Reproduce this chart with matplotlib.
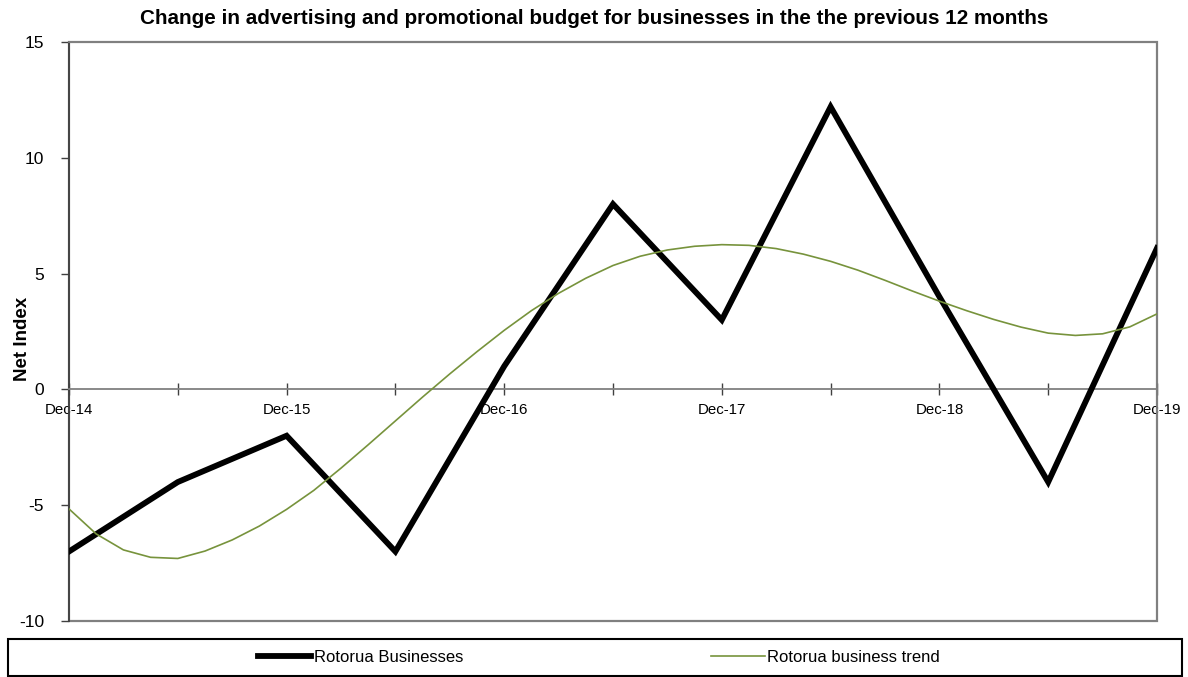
import matplotlib
matplotlib.use("Agg")
import matplotlib.pyplot as plt
from matplotlib.patches import Rectangle
import numpy as np

plt.rcParams['font.family'] = ['Liberation Sans', 'DejaVu Sans']
plt.rcParams['axes.unicode_minus'] = False

# half-yearly survey periods
periods = ['Dec-14', 'Jun-15', 'Dec-15', 'Jun-16', 'Dec-16', 'Jun-17',
           'Dec-17', 'Jun-18', 'Dec-18', 'Jun-19', 'Dec-19']
rotorua = [-7, -4, -2, -7, 1, 8, 3, 12.2, 4, -4, 6.1]

# trend line, sampled every quarter (in half-year steps)
trend_pos = [i * 0.25 for i in range(41)]
trend = [-5.16, -6.24, -6.93, -7.25, -7.30, -6.98, -6.50, -5.90, -5.18,
         -4.36, -3.40, -2.39, -1.36, -0.33, 0.67, 1.63, 2.55,
         3.40, 4.15, 4.80, 5.35, 5.75, 6.02, 6.18, 6.25,
         6.22, 6.08, 5.84, 5.53, 5.15, 4.71, 4.25, 3.81,
         3.40, 3.02, 2.69, 2.43, 2.33, 2.40, 2.70, 3.26]

grey = '#808080'
green = '#77933C'

fig = plt.figure(figsize=(11.88, 6.77), dpi=100)
ax = fig.add_axes([69 / 1188, 1 - 621 / 677, 1088 / 1188, 579 / 677])

x = np.arange(len(periods))
ax.plot(x, rotorua, color='black', lw=4.2, solid_joinstyle='miter',
        label='Rotorua Businesses', zorder=3)
ax.plot(trend_pos, trend, color=green, lw=1.2, label='Rotorua business trend', zorder=4)

ax.set_xlim(0, len(periods) - 1)
ax.set_ylim(-10, 15)
ax.set_yticks([-10, -5, 0, 5, 10, 15])

# category axis runs along zero, labels only every December
ax.spines['bottom'].set_position(('data', 0))
ax.spines['bottom'].set_color(grey)
ax.spines['top'].set_color(grey)
ax.spines['right'].set_color(grey)
ax.spines['left'].set_color('#404040')
for s in ax.spines.values():
    s.set_linewidth(1.3)
ax.add_patch(Rectangle((0, 0), 1, 1, transform=ax.transAxes, fill=False,
                       edgecolor=grey, lw=1.6, clip_on=False, zorder=1))

ax.set_xticks(x)
ax.set_xticklabels([p if p.startswith('Dec') else '' for p in periods])
ax.tick_params(axis='x', direction='inout', length=9, width=1, color='#404040',
               pad=5, labelsize=10.8)
ax.tick_params(axis='y', direction='out', length=6, width=1, color='#404040',
               pad=12, labelsize=12.5)

ax.set_ylabel('Net Index', fontsize=13.5, fontweight='bold')
ax.yaxis.set_label_coords(-0.035, 0.487)

fig.text(0.5, 1 - 19 / 677, 'Change in advertising and promotional budget for businesses in the the previous 12 months',
         ha='center', va='center', fontsize=14.9, fontweight='bold')

# legend in a full-width box under the chart
fig.patches.append(Rectangle((8 / 1188, 1 - 676 / 677), 1174 / 1188, 37 / 677,
                             transform=fig.transFigure, fill=False,
                             edgecolor='black', lw=1.5))
fig.legend(loc='center', bbox_to_anchor=(599 / 1188, 1 - 657 / 677), ncol=2,
           frameon=False, fontsize=12, handlelength=3.2, handletextpad=0.15,
           columnspacing=14.9, borderpad=0, borderaxespad=0)

fig.savefig('out.png', dpi=100)
